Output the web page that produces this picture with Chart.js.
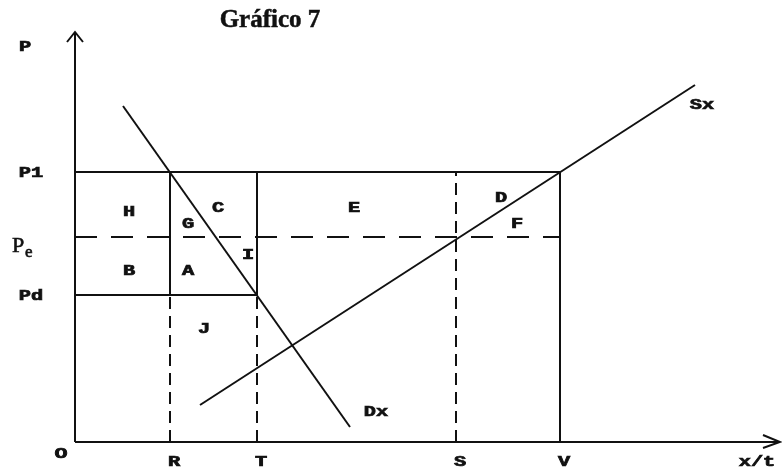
<!DOCTYPE html>
<html>
<head>
<meta charset="utf-8">
<script src="https://cdn.jsdelivr.net/npm/chart.js@4"></script>
<style>
  body { margin: 0; background: #fff; }
</style>
</head>
<body>
<canvas id="chart" width="782" height="473"></canvas>
<script>
// quantities on the horizontal axis
const quantities = [95, 182, 381, 485];
const quantityLabels = ["R", "T", "S", "V"];

// price levels: P1, Pe, Pd
const prices = [270, 205, 147];
const priceLabels = ["P1", "Pe", "Pd"];

// demand and supply lines (end points)
const demandX = [48, 275];
const demandY = [336, 15];
const supplyX = [125, 620];
const supplyY = [37, 357];

const areaLabels = ["H", "C", "G", "E", "D", "F", "B", "A", "I", "J"];

const [qR, qT, qS, qV] = quantities;
const [pHigh, pEq, pLow] = prices;

const ink = "#111";

const seg = (x1, y1, x2, y2, dash = [], width = 2) => ({
  data: [{ x: x1, y: y1 }, { x: x2, y: y2 }],
  showLine: true,
  borderColor: ink,
  borderWidth: width,
  borderDash: dash,
  pointRadius: 0,
  clip: false,
});

const datasets = [
  // axes
  seg(0, 0, 705, 0),
  seg(0, 0, 0, 410),
  // price lines
  seg(0, pHigh, qV, pHigh),
  seg(0, pEq, qV, pEq, [22, 14]),
  seg(0, pLow, qT, pLow),
  // quantity lines
  seg(qR, pLow, qR, pHigh),
  seg(qR, 0, qR, pLow, [12, 7]),
  seg(qT, pLow, qT, pHigh),
  seg(qT, 0, qT, pLow, [12, 7]),
  seg(qS, 0, qS, pHigh, [12, 7]),
  seg(qV, 0, qV, pHigh),
  // curves
  seg(demandX[0], demandY[0], demandX[1], demandY[1]),
  seg(supplyX[0], supplyY[0], supplyX[1], supplyY[1]),
];

// where the area letters sit (data units)
const areaSpots = [
  [54, 230], [143, 234], [113, 218], [279, 234], [426, 244],
  [442, 218], [54, 171], [113, 171], [173, 187], [129, 113],
];

const typeText = (ctx, text, x, y, size = 14) => {
  ctx.save();
  ctx.font = `bold ${size}px "Liberation Mono", monospace`;
  ctx.textAlign = "center";
  ctx.textBaseline = "middle";
  ctx.translate(x, y);
  ctx.scale(1.45, 1);
  ctx.lineWidth = 0.7;
  ctx.fillText(text, 0, 0);
  ctx.strokeText(text, 0, 0);
  ctx.restore();
};

const labelsPlugin = {
  id: "labels",
  afterDraw(chart) {
    const { ctx } = chart;
    const xs = chart.scales.x;
    const ys = chart.scales.y;
    const x0 = xs.getPixelForValue(0);
    const y0 = ys.getPixelForValue(0);
    ctx.save();
    ctx.fillStyle = ink;
    ctx.strokeStyle = ink;
    ctx.lineWidth = 2;

    // arrow heads
    const yTop = ys.getPixelForValue(410);
    ctx.beginPath();
    ctx.moveTo(x0 - 8, yTop + 10);
    ctx.lineTo(x0, yTop);
    ctx.lineTo(x0 + 8, yTop + 10);
    ctx.stroke();
    const xEnd = xs.getPixelForValue(705);
    ctx.beginPath();
    ctx.moveTo(xEnd - 17, y0 - 7);
    ctx.lineTo(xEnd, y0);
    ctx.lineTo(xEnd - 17, y0 + 6);
    ctx.stroke();

    // title
    ctx.font = 'bold 25px "Liberation Serif", serif';
    ctx.textAlign = "center";
    ctx.textBaseline = "alphabetic";
    ctx.lineWidth = 0.5;
    ctx.fillText("Gráfico 7", 270, 27);
    ctx.strokeText("Gráfico 7", 270, 27);

    // axis names
    typeText(ctx, "P", 25, 47);
    typeText(ctx, "O", 61, 454, 15);
    typeText(ctx, "x/t", 757, 462);

    // quantity labels
    quantityLabels.forEach((t, i) => {
      typeText(ctx, t, xs.getPixelForValue(quantities[i]) + 4, y0 + 20);
    });

    // price labels
    priceLabels.forEach((t, i) => {
      const py = ys.getPixelForValue(prices[i]);
      if (t === "Pe") {
        ctx.textAlign = "left";
        ctx.textBaseline = "alphabetic";
        ctx.lineWidth = 0.6;
        ctx.font = '22px "Liberation Serif", serif';
        ctx.fillText("P", 12, py + 15);
        ctx.strokeText("P", 12, py + 15);
        ctx.font = '17px "Liberation Serif", serif';
        ctx.fillText("e", 25, py + 20);
        ctx.strokeText("e", 25, py + 20);
      } else {
        typeText(ctx, t, 31, py + 1);
      }
    });

    // area letters
    areaLabels.forEach((t, i) => {
      const [ax, ay] = areaSpots[i];
      typeText(ctx, t, xs.getPixelForValue(ax), ys.getPixelForValue(ay));
    });

    // curve names
    typeText(ctx, "Sx", xs.getPixelForValue(627), ys.getPixelForValue(337));
    typeText(ctx, "Dx", xs.getPixelForValue(301), ys.getPixelForValue(30));
    ctx.restore();
  },
};

new Chart(document.getElementById("chart"), {
  type: "scatter",
  data: { datasets },
  options: {
    responsive: false,
    animation: false,
    layout: { padding: { left: 75, top: 30, right: 2, bottom: 31 } },
    plugins: { legend: { display: false }, tooltip: { enabled: false } },
    scales: {
      x: { type: "linear", min: 0, max: 705, display: false },
      y: { type: "linear", min: 0, max: 412, display: false },
    },
  },
  plugins: [labelsPlugin],
});
</script>
</body>
</html>
